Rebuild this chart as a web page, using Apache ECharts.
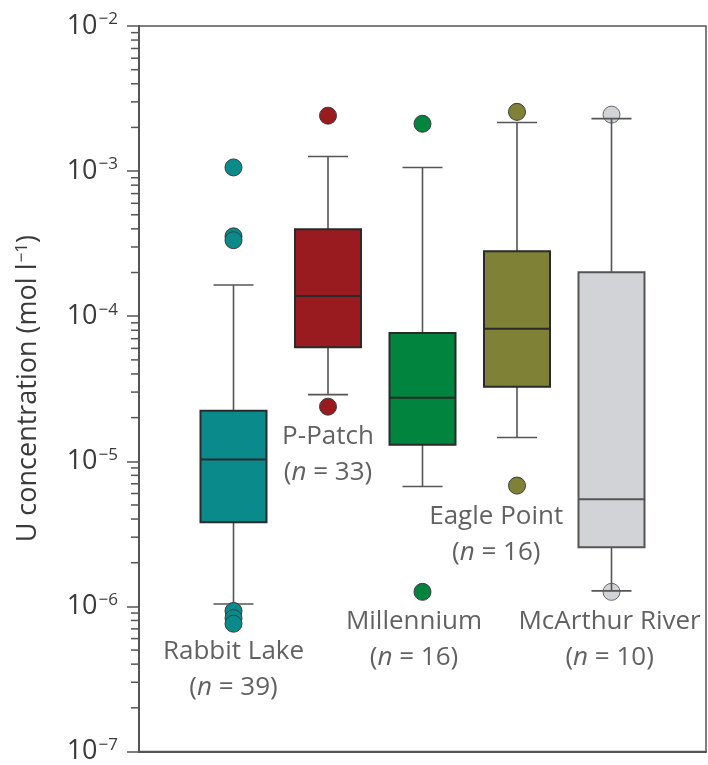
<!DOCTYPE html>
<html>
<head>
<meta charset="utf-8">
<script src="https://cdn.jsdelivr.net/npm/echarts@6/dist/echarts.min.js"></script>
<style>
  html, body { margin: 0; padding: 0; background: #fff; }
  #chart { width: 708px; height: 765px; }
</style>
</head>
<body>
<div id="chart"></div>
<script>
// sites, one box each
const sites = ['Rabbit Lake', 'P-Patch', 'Millennium', 'Eagle Point', 'McArthur River']
const counts = [39, 33, 16, 16, 10]
const whiskerLow = [1.04e-6, 2.88e-5, 6.7e-6, 1.46e-5, 1.28e-6]
const q1 = [3.8e-6, 6.1e-5, 1.3e-5, 3.27e-5, 2.56e-6]
const median = [1.03e-5, 1.38e-4, 2.74e-5, 8.2e-5, 5.47e-6]
const q3 = [2.23e-5, 3.97e-4, 7.67e-5, 2.8e-4, 2.01e-4]
const whiskerHigh = [1.64e-4, 1.26e-3, 1.06e-3, 2.16e-3, 2.3e-3]
const outliers = [
  [1.06e-3, 3.55e-4, 3.34e-4, 9.3e-7, 8.3e-7, 7.6e-7],
  [2.41e-3, 2.38e-5],
  [2.12e-3, 1.26e-6],
  [2.56e-3, 6.8e-6],
  [2.45e-3, 1.26e-6]
]
// y axis decades (tick labels) and minor tick steps
const decades = [1e-7, 1e-6, 1e-5, 1e-4, 1e-3, 1e-2]
const minorSteps = [2, 3, 4, 5, 6, 7, 8, 9]

const colors = ['#0b8a8c', '#9a1b1f', '#00843e', '#7f8236', '#d1d3d6']
// where each site label sits, in axis units (x 0..6, y value)
const labelAnchors = [[1.0, 3.66e-7], [2.0, 1.12e-5], [2.91, 5.93e-7], [3.78, 3.12e-6], [4.98, 5.93e-7]]

const FONT = 'Open Sans'
const TEXT = '#3a3a3a'

const chart = echarts.init(document.getElementById('chart'))

const boxData = sites.map((s, i) => [i + 1, whiskerLow[i], q1[i], median[i], q3[i], whiskerHigh[i]])

const minorTicks = []
decades.slice(0, -1).forEach(d => {
  minorSteps.forEach(m => minorTicks.push([0, d * m]))
})

function renderBox (params, api) {
  const cx = api.coord([api.value(0), api.value(3)])[0]
  const y = k => api.coord([api.value(0), api.value(k)])[1]
  const half = 33
  const cap = 20
  const fill = colors[params.dataIndex]
  const whisker = { stroke: '#555', lineWidth: 1.6 }
  const border = params.dataIndex === 4 ? '#555' : '#2a2a2a'
  return {
    type: 'group',
    children: [
      { type: 'line', shape: { x1: cx, y1: y(1), x2: cx, y2: y(2) }, style: whisker },
      { type: 'line', shape: { x1: cx, y1: y(4), x2: cx, y2: y(5) }, style: whisker },
      { type: 'line', shape: { x1: cx - cap, y1: y(1), x2: cx + cap, y2: y(1) }, style: whisker },
      { type: 'line', shape: { x1: cx - cap, y1: y(5), x2: cx + cap, y2: y(5) }, style: whisker },
      {
        type: 'rect',
        shape: { x: cx - half, y: y(4), width: half * 2, height: y(2) - y(4) },
        style: { fill: fill, stroke: border, lineWidth: 2 }
      },
      { type: 'line', shape: { x1: cx - half, y1: y(3), x2: cx + half, y2: y(3) }, style: { stroke: border, lineWidth: 2 } }
    ]
  }
}

function renderMinor (params, api) {
  const p = api.coord([0, api.value(1)])
  return {
    type: 'line',
    shape: { x1: p[0] - 8, y1: p[1], x2: p[0], y2: p[1] },
    style: { stroke: '#555', lineWidth: 1.5 }
  }
}

const outlierSeries = sites.map((s, i) => ({
  name: s + ' outliers',
  type: 'scatter',
  z: i === 4 ? 1 : 4,
  symbolSize: 17,
  itemStyle: { color: colors[i], borderColor: i === 4 ? '#666' : '#3a3a3a', borderWidth: 1, opacity: 1 },
  data: outliers[i].map(v => [i + 1, v]),
  animation: false
}))

const sup = { fontSize: 17, fontFamily: FONT, color: TEXT, padding: [0, 0, 13, 1] }

chart.setOption({
  animation: false,
  grid: { left: 139, right: 2, top: 26, bottom: 11, show: true, borderColor: '#555', borderWidth: 1.5 },
  xAxis: [{
    type: 'category',
    data: [''].concat(sites, ['']),
    boundaryGap: false,
    axisLine: { lineStyle: { color: '#555', width: 2 } },
    axisTick: { show: false },
    axisLabel: { show: false },
    splitLine: { show: false }
  }, {
    type: 'value',
    min: 0,
    max: 6,
    show: false
  }],
  yAxis: {
    type: 'log',
    logBase: 10,
    min: 1e-7,
    max: 1e-2,
    interval: 1,
    name: 'U concentration (mol l{s|−1})',
    nameLocation: 'middle',
    nameGap: 96,
    nameTextStyle: { fontFamily: FONT, fontSize: 27, color: TEXT, rich: { s: { fontSize: 17, fontFamily: FONT, color: TEXT, padding: [0, 0, 12, 1] } } },
    axisLine: { show: true, lineStyle: { color: '#555', width: 2 } },
    axisTick: { show: true, length: 12, lineStyle: { color: '#555', width: 1.5 } },
    splitLine: { show: false },
    axisLabel: {
      margin: 21,
      fontFamily: FONT,
      fontSize: 27,
      color: TEXT,
      formatter: v => '10{s|−' + Math.round(-Math.log10(v)) + '}',
      rich: { s: sup }
    }
  },
  series: [{
    name: 'minor ticks',
    type: 'custom',
    renderItem: renderMinor,
    data: minorTicks,
    silent: true,
    clip: false
  }, {
    name: 'boxes',
    type: 'custom',
    z: 2,
    renderItem: renderBox,
    encode: { x: 0, y: [1, 2, 3, 4, 5] },
    data: boxData
  }].concat(outlierSeries, [{
    name: 'labels',
    type: 'scatter',
    xAxisIndex: 1,
    symbolSize: 0,
    silent: true,
    data: sites.map((s, i) => ({ value: labelAnchors[i], name: s, n: counts[i] })),
    label: {
      show: true,
      position: 'inside',
      align: 'center',
      verticalAlign: 'middle',
      lineHeight: 36,
      formatter: p => '{a|' + sites[p.dataIndex] + '}\n{a|(}{i|n}{a| = ' + counts[p.dataIndex] + ')}',
      rich: {
        a: { fontFamily: FONT, fontSize: 26, color: TEXT, lineHeight: 36 },
        i: { fontFamily: FONT, fontSize: 26, color: TEXT, fontStyle: 'italic', lineHeight: 36 }
      }
    }
  }])
})
</script>
</body>
</html>
